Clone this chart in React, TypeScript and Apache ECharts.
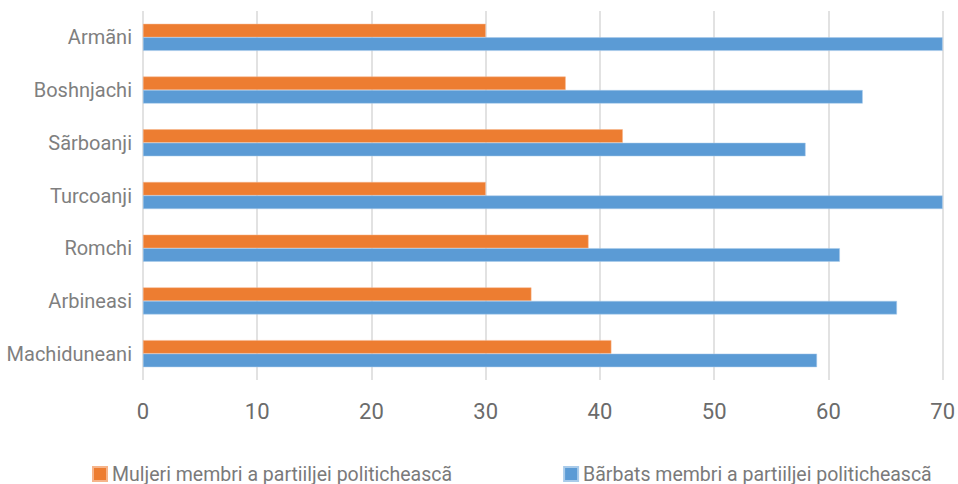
import React, { useEffect, useRef } from "react";
import * as echarts from "echarts";

const categories = ["Armãni", "Boshnjachi", "Sãrboanji", "Turcoanji", "Romchi", "Arbineasi", "Machiduneani"];
const womenName = "Muljeri membri a partiiljei politicheascã";
const menName = "Bãrbats membri a partiiljei politicheascã";
const womenValues = [30, 37, 42, 30, 39, 34, 41];
const menValues = [70, 63, 58, 70, 61, 66, 59];

export default function App() {
  const ref = useRef<HTMLDivElement>(null);
  useEffect(() => {
    document.body.style.margin = "0";
    document.body.style.overflow = "hidden";
    if (!ref.current) return;
    const chart = echarts.init(ref.current, null, { renderer: "svg" });
    const font = "Roboto, 'Noto Sans', sans-serif";
    chart.setOption({
      animation: false,
      backgroundColor: "#ffffff",
      grid: { left: 143, right: 14, top: 11, bottom: 104, containLabel: false },
      legend: {
        data: [womenName, menName],
        left: 87,
        top: 459,
        itemWidth: 14,
        itemHeight: 14,
        itemGap: 111,
        icon: "rect",
        textStyle: { color: "#7a7a7a", fontSize: 19.5, fontFamily: font, lineHeight: 20 },
      },
      xAxis: {
        type: "value",
        min: 0,
        max: 70,
        interval: 10,
        axisLine: { show: false },
        axisTick: { show: false },
        splitLine: { show: true, lineStyle: { color: "#d9d9d9", width: 1.5 } },
        axisLabel: { color: "#6b6b6b", fontSize: 22, fontFamily: font, margin: 20 },
      },
      yAxis: {
        type: "category",
        data: categories,
        inverse: true,
        axisLine: { show: false },
        axisTick: { show: false },
        axisLabel: { color: "#7f7f7f", fontSize: 20, fontFamily: font, margin: 11 },
      },
      series: [
        {
          name: womenName,
          type: "bar",
          data: womenValues,
          barWidth: 13.5,
          barGap: "0%",
          itemStyle: { color: "#ED7D31", borderColor: "#f6b48a", borderWidth: 0.5 },
        },
        {
          name: menName,
          type: "bar",
          data: menValues,
          barWidth: 13.5,
          barGap: "0%",
          itemStyle: { color: "#5B9BD5", borderColor: "#a9cbea", borderWidth: 0.5 },
        },
      ],
    });
    return () => chart.dispose();
  }, []);
  return <div ref={ref} style={{ width: 958, height: 484 }} />;
}
